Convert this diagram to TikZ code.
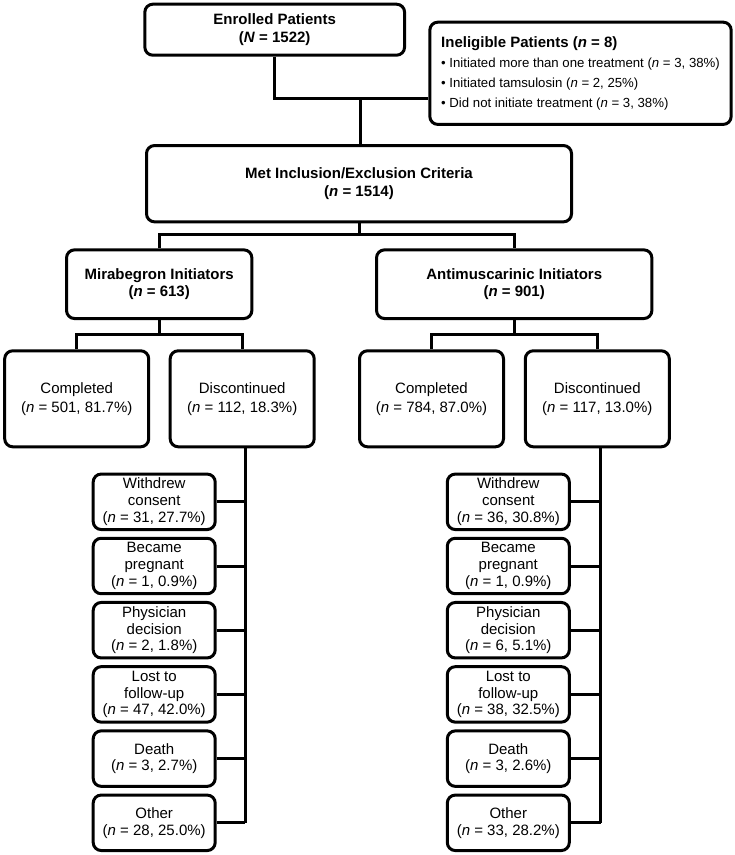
\documentclass[tikz,border=0pt]{standalone}
\usepackage{fontspec}
\setmainfont{Liberation Sans}
\begin{document}
\begin{tikzpicture}[x=0.75pt,y=-0.75pt,
  box/.style={draw, line width=2.25pt, rounded corners=6pt, align=center, inner sep=0pt,
    font=\fontsize{11.25}{13.6}\selectfont},
  hdr/.style={box, font=\bfseries\fontsize{11.25}{13.2}\selectfont},
  bigbox/.style={box, minimum width=108pt, minimum height=72pt, font=\fontsize{11.25}{14.2}\selectfont},
  smallbox/.style={box, minimum width=91.5pt, minimum height=41.6pt, font=\fontsize{11.25}{12.6}\selectfont},
  conn/.style={line width=2.25pt}]
\useasboundingbox (0,0) rectangle (734,855);

% top
\node[hdr, minimum width=194.8pt, minimum height=38.25pt] (enr) at (274.7,29.7)
  {Enrolled Patients\\(\textit{N} = 1522)};
\node[box, minimum width=226pt, minimum height=76.7pt, align=left,
  font=\fontsize{9.9}{15}\selectfont] (inel) at (580.5,73.3)
  {{\bfseries\fontsize{11.25}{15}\selectfont Ineligible Patients (\textit{n} = 8)}\\
   • Initiated more than one treatment (\textit{n} = 3, 38\%)\\
   • Initiated tamsulosin (\textit{n} = 2, 25\%)\\
   • Did not initiate treatment (\textit{n} = 3, 38\%)};
\node[hdr, minimum width=318.75pt, minimum height=57.2pt, font=\bfseries\fontsize{11.25}{13.8}\selectfont] (met) at (359,183.7)
  {Met Inclusion/Exclusion Criteria\\(\textit{n} = 1514)};
\node[hdr, minimum width=139pt, minimum height=51.5pt] (mir) at (159.2,284.2)
  {Mirabegron Initiators\\(\textit{n} = 613)};
\node[hdr, minimum width=206.5pt, minimum height=51.5pt] (ant) at (514.2,284.2)
  {Antimuscarinic Initiators\\(\textit{n} = 901)};

% second level
\node[bigbox] (c1) at (76.7,398.8) {Completed\\(\textit{n} = 501, 81.7\%)};
\node[bigbox] (d1) at (242.2,398.8) {Discontinued\\(\textit{n} = 112, 18.3\%)};
\node[bigbox] (c2) at (431.5,398.8) {Completed\\(\textit{n} = 784, 87.0\%)};
\node[bigbox] (d2) at (597.3,398.8) {Discontinued\\(\textit{n} = 117, 13.0\%)};

% reasons, left
\node[smallbox] (a1) at (154.2,501.8) {Withdrew\\consent\\(\textit{n} = 31, 27.7\%)};
\node[smallbox] (a2) at (154.2,566.0) {Became\\pregnant\\(\textit{n} = 1, 0.9\%)};
\node[smallbox] (a3) at (154.2,630.2) {Physician\\decision\\(\textit{n} = 2, 1.8\%)};
\node[smallbox] (a4) at (154.2,694.4) {Lost to\\follow-up\\(\textit{n} = 47, 42.0\%)};
\node[smallbox] (a5) at (154.2,758.6) {Death\\(\textit{n} = 3, 2.7\%)};
\node[smallbox] (a6) at (154.2,822.8) {Other\\(\textit{n} = 28, 25.0\%)};

% reasons, right
\node[smallbox] (b1) at (508.3,501.8) {Withdrew\\consent\\(\textit{n} = 36, 30.8\%)};
\node[smallbox] (b2) at (508.3,566.0) {Became\\pregnant\\(\textit{n} = 1, 0.9\%)};
\node[smallbox] (b3) at (508.3,630.2) {Physician\\decision\\(\textit{n} = 6, 5.1\%)};
\node[smallbox] (b4) at (508.3,694.4) {Lost to\\follow-up\\(\textit{n} = 38, 32.5\%)};
\node[smallbox] (b5) at (508.3,758.6) {Death\\(\textit{n} = 3, 2.6\%)};
\node[smallbox] (b6) at (508.3,822.8) {Other\\(\textit{n} = 33, 28.2\%)};

% junction coordinates
\coordinate (j1) at (360,99);
\coordinate (j2) at (359,235);
\coordinate (j3) at (0,334);
\coordinate (v1) at (245,0);
\coordinate (v2) at (600.5,0);

% connectors
\draw[conn] (enr.south) -- (enr.south |- j1) -- (j1 -| inel.west);
\draw[conn] (j1) -- (j1 |- met.north);
\draw[conn] (met.south) -- (j2);
\draw[conn] (mir.north) -- (mir.north |- j2) -- (ant.north |- j2) -- (ant.north);
\draw[conn] (mir.south) -- (mir.south |- j3);
\draw[conn] (c1.north) -- (c1.north |- j3) -- (d1.north |- j3) -- (d1.north);
\draw[conn] (ant.south) -- (ant.south |- j3);
\draw[conn] (c2.north) -- (c2.north |- j3) -- (d2.north |- j3) -- (d2.north);

\draw[conn] (v1 |- d1.south) -- (v1 |- a6.east);
\draw[conn] (v2 |- d2.south) -- (v2 |- b6.east);
\foreach \i in {1,...,6} {
  \draw[conn] (a\i.east) -- (a\i.east -| v1);
  \draw[conn] (b\i.east) -- (b\i.east -| v2);
}
\end{tikzpicture}
\end{document}
